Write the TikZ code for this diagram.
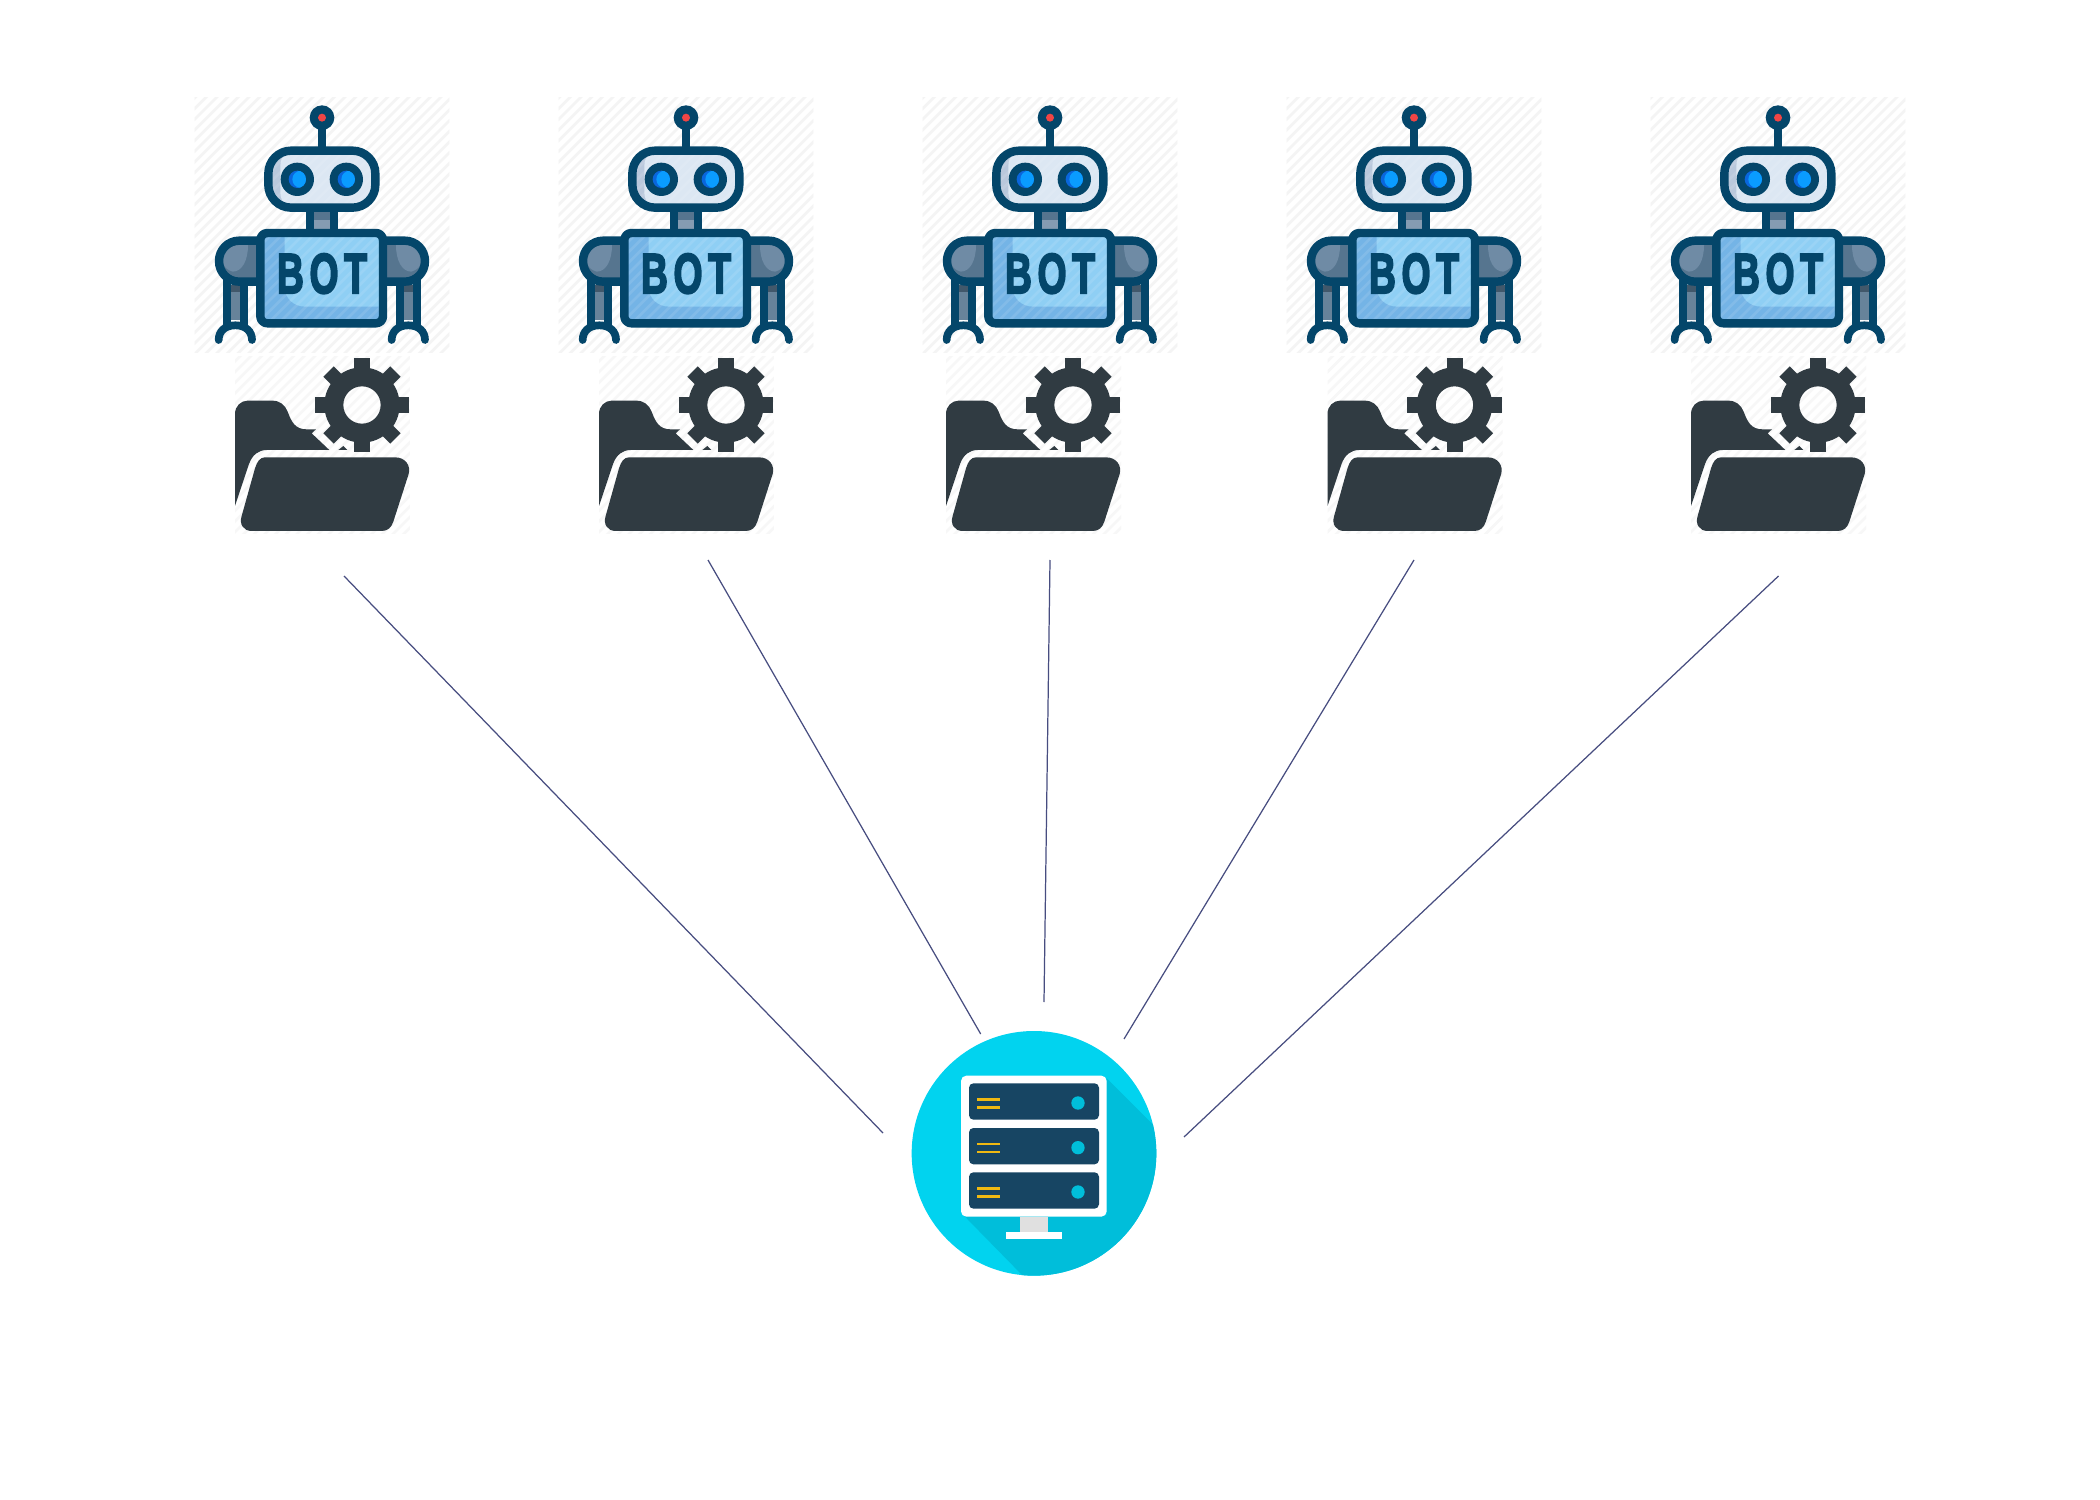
\documentclass[tikz,border=0pt]{standalone}
\usepackage{fontspec}
\newfontfamily\botfont[BoldFeatures={FakeBold=4}]{Liberation Sans}
\definecolor{rdark}{HTML}{04466A}
\definecolor{rhead}{HTML}{DCE7F3}
\definecolor{rheadd}{HTML}{B9C8DC}
\definecolor{rbody}{HTML}{74B4E6}
\definecolor{rbodyl}{HTML}{8FCFF4}
\definecolor{rarm}{HTML}{56758F}
\definecolor{rarml}{HTML}{6F8BA5}
\definecolor{reyed}{HTML}{0A66DC}
\definecolor{reyel}{HTML}{0A9CFF}
\definecolor{rred}{HTML}{F04545}
\definecolor{foldc}{HTML}{303B42}
\definecolor{scyan}{HTML}{01D3EF}
\definecolor{scyand}{HTML}{00BEDA}
\definecolor{srack}{HTML}{174563}
\definecolor{syel}{HTML}{F0B912}
\definecolor{linkc}{HTML}{474D80}
\definecolor{hatchc}{HTML}{F3F3F3}
\tikzset{
  zoomunits/.style={x=0.0066667cm,y=-0.0066667cm},
  rstroke/.style={draw=rdark,line width=4.8pt,line join=round},
  rclaw/.style={draw=rdark,line width=4.4pt,line cap=round},
  stripe/.style={draw=hatchc,line width=1.5pt},
  stripew/.style={draw=white,line width=1.5pt,opacity=.10},
  link/.style={draw=linkc,line width=0.7pt},
  robotpic/.pic={
    \begin{scope}[zoomunits]
      \begin{scope}
        \clip (-382,22) rectangle (382,788);
        \foreach \s in {-1190,-1158,...,390} \draw[stripe] (\s,800) -- (\s+800,0);
      \end{scope}
      % light fills first
      \begin{scope}
        \clip[rounded corners=13pt] (-161,182) rectangle (160,353);
        \fill[rhead] (-161,182) rectangle (160,353);
        \fill[rheadd] (-161,182) rectangle (-90,353);
        \fill[rhead,rounded corners=11pt] (-125,170) rectangle (200,365);
      \end{scope}
      \begin{scope}
        \clip[rounded corners=4pt] (-185,429) rectangle (183,700);
        \fill[rbody] (-185,429) rectangle (183,700);
        \fill[rbodyl] (-112,420) -- (183,420) -- (183,650) -- (-50,650) .. controls (-85,650) and (-112,625) .. (-112,590) -- cycle;
      \end{scope}
      % stripes overlaid on the light fills
      \begin{scope}
        \clip (-382,22) rectangle (382,788);
        \foreach \s in {-1190,-1158,...,390} \draw[stripew] (\s,800) -- (\s+800,0);
      \end{scope}
      % grey fills
      \fill[rarm] (-25,360) rectangle (25,390);
      \fill[rarml!85!white] (-25,390) rectangle (25,420);
      \foreach \sx in {1,-1} {
        \begin{scope}[xscale=\sx]
          \fill[rarm] (-190,452) -- (-248,452) .. controls (-283,452) and (-309,480) .. (-309,513) .. controls (-309,547) and (-283,575) .. (-248,575) -- (-190,575) -- cycle;
          \fill[rarml] (-222,465) .. controls (-222,512) and (-240,545) .. (-268,545) .. controls (-285,540) and (-297,530) .. (-297,513) .. controls (-297,485) and (-275,465) .. (-248,465) -- cycle;
          \fill[rarm!90!white] (-273,585) rectangle (-246,690);
          \fill[rarm!75!black] (-273,585) rectangle (-246,605);
        \end{scope}
      }
      % antenna
      \draw[draw=rdark,line width=4.6pt] (0,85) -- (0,185);
      \fill[rdark] (0,83) circle (37);
      \fill[rred] (0,83) circle (12);
      % neck
      \draw[draw=rdark,line width=4.6pt] (-37,360) -- (-37,425) (37,360) -- (37,425);
      % head
      \draw[rstroke,rounded corners=13pt] (-161,182) rectangle (160,353);
      % eyes
      \foreach \ex in {-74,73} {
        \fill[rdark] (\ex,268) circle (50);
        \fill[reyed] (\ex,268) circle (26);
        \begin{scope}
          \clip (\ex,268) circle (26);
          \fill[reyel] (\ex+11,268) circle (26);
        \end{scope}
      }
      % arms
      \foreach \sx in {1,-1} {
        \begin{scope}[xscale=\sx]
          \draw[rstroke] (-190,452) -- (-248,452) .. controls (-283,452) and (-309,480) .. (-309,513) .. controls (-309,547) and (-283,575) .. (-248,575) -- (-190,575);
          \draw[draw=rdark,line width=4.4pt] (-284,560) -- (-284,708) (-235,575) -- (-235,708);
        \end{scope}
      }
      % claws
      \draw[rclaw] (-310,750) .. controls (-310,725) and (-292,706) .. (-260,706) .. controls (-228,706) and (-210,725) .. (-210,750);
      \draw[rclaw] (209,750) .. controls (209,725) and (227,706) .. (259,706) .. controls (291,706) and (309,725) .. (309,750);
      % body
      \draw[rstroke,rounded corners=4pt] (-185,429) rectangle (183,700);
      \node[text=rdark,inner sep=0pt,xscale=.66,transform shape,font=\botfont\bfseries\fontsize{32}{32}\selectfont] (bottext) at (0,551) {B\hspace{5pt}O\hspace{5pt}T};
    \end{scope}
  },
  folderpic/.pic={
    \begin{scope}[zoomunits]
      \begin{scope}
        \clip (0,50) rectangle (525,580);
        \foreach \s in {-800,-768,...,525} \draw[stripe,draw=hatchc!70!white] (\s,800) -- (\s+800,0);
      \end{scope}
      % back of folder
      \fill[foldc] (0,498) -- (0,222) .. controls (0,198) and (18,182) .. (38,182) -- (112,182) .. controls (135,182) and (150,195) .. (158,215) .. controls (170,248) and (182,268) .. (215,268) -- (243,268) -- (230,280) -- (283,330) -- (95,330) .. controls (70,330) and (52,345) .. (42,372) -- cycle;
      \fill[foldc] (310,330) -- (325,318) -- (337,330) -- cycle;
      % front of folder
      \fill[foldc] (90,352) -- (480,352) .. controls (512,352) and (528,378) .. (521,402) -- (475,545) .. controls (469,563) and (458,573) .. (440,573) -- (50,573) .. controls (25,573) and (12,552) .. (20,528) -- (60,385) .. controls (66,365) and (75,352) .. (90,352) -- cycle;
      % gear
      \fill[foldc,even odd rule] (381,195) circle (113) (381,195) circle (56);
      \foreach \a in {0,90,180,270}
        \fill[foldc,shift={(381,195)},rotate=\a] (-24,-142) rectangle (24,-95);
      \foreach \a in {45,135,225,315}
        \fill[foldc,shift={(381,195)},rotate=\a] (-22,-142) rectangle (22,-95);
    \end{scope}
  },
  serverpic/.pic={
    \begin{scope}[zoomunits]
      \fill[scyan] (402,400) circle (367);
      \begin{scope}
        \clip (402,400) circle (367);
        \fill[scyand] (620,175) -- (830,385) -- (830,820) -- (420,820) -- (190,585) -- (620,585) -- cycle;
      \end{scope}
      \fill[white,rounded corners=3pt] (183,167) rectangle (620,590);
      \fill[black!12] (360,590) rectangle (445,637);
      \fill[white] (317,637) rectangle (487,658);
      \foreach \ry in {190,324,457} {
        \fill[srack,rounded corners=2.5pt] (207,\ry) rectangle (597,\ry+109);
        \draw[syel,line width=1.6pt] (231,\ry+48) -- (299,\ry+48) (231,\ry+72) -- (299,\ry+72);
        \fill[scyand] (534,\ry+59) circle (20);
      }
    \end{scope}
  }
}
\begin{document}
\begin{tikzpicture}[x=0.02cm,y=-0.02cm]
  \path[use as bounding box,fill=white] (0,0) rectangle (2100,1500);
  \foreach \n/\cx in {1/322,2/686,3/1050,4/1414,5/1778}
    \pic (robot\n) at (\cx,90) {robotpic};
  \foreach \n/\lx in {1/235,2/599,3/946,4/1327.5,5/1691}
    \pic (folder\n) at (\lx,340) {folderpic};
  \pic (server) at (900,1020) {serverpic};
  \coordinate (top1) at (344,576);
  \coordinate (top2) at (708,560);
  \coordinate (top3) at (1050,560);
  \coordinate (top4) at (1414,560);
  \coordinate (top5) at (1778.5,576);
  \coordinate (end1) at (883,1133);
  \coordinate (end2) at (980.7,1034);
  \coordinate (end3) at (1044,1002);
  \coordinate (end4) at (1124,1039);
  \coordinate (end5) at (1184,1137);
  \foreach \n in {1,...,5} \draw[link] (top\n) -- (end\n);
\end{tikzpicture}
\end{document}
